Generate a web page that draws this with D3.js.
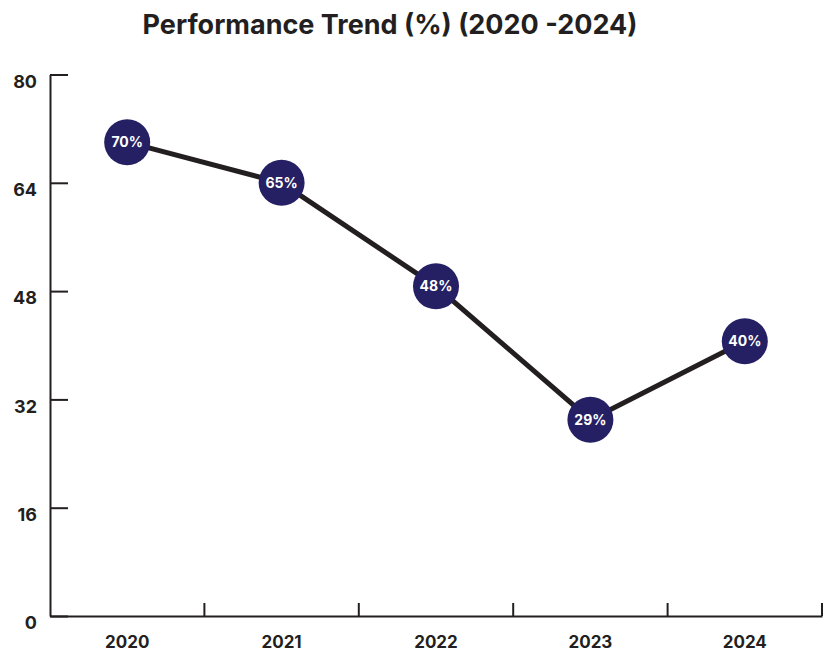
<!DOCTYPE html>
<html>
<head>
<meta charset="utf-8">
<script src="https://cdn.jsdelivr.net/npm/d3@7"></script>
<style>
  body { margin: 0; background: #ffffff; }
  text { font-family: Inter, "Noto Sans", sans-serif; font-weight: 700; fill: #231f20; }
</style>
</head>
<body>
<svg id="chart" width="832" height="657"></svg>
<script>
// data
var years = ["2020", "2021", "2022", "2023", "2024"];
var values = [70, 64, 48.7, 29, 40.6];       // where the dots sit
var labels = ["70%", "65%", "48%", "29%", "40%"]; // text printed in the dots
var yTicks = [0, 16, 32, 48, 64, 80];

var svg = d3.select("#chart");
var mLeft = 50, mRight = 822, mTop = 74.5, mBottom = 616;

var x = d3.scaleBand().domain(years).range([mLeft, mRight]).padding(0);
var y = d3.scaleLinear().domain([0, 80]).range([mBottom, mTop]);

// title
svg.append("text")
  .attr("x", 390)
  .attr("y", 34)
  .attr("text-anchor", "middle")
  .attr("font-size", 27)
  .text("Performance Trend (%) (2020 -2024)");

// y axis, ticks point inward
var yAxis = svg.append("g")
  .attr("transform", "translate(" + mLeft + ",0)")
  .call(d3.axisLeft(y).tickValues(yTicks).tickSize(-18).tickSizeOuter(0).tickPadding(13));
yAxis.selectAll("text")
  .attr("font-size", 18)
  .attr("transform", "translate(0,7)");

// x axis labels only
var xAxis = svg.append("g")
  .attr("transform", "translate(0," + mBottom + ")")
  .call(d3.axisBottom(x).tickSize(0).tickPadding(20));
xAxis.selectAll("text").attr("font-size", 17);

// tick marks at band edges, pointing up
var edges = years.map(function(d){ return x(d) + x.bandwidth(); });
svg.selectAll(".xedge")
  .data(edges)
  .enter().append("line")
  .attr("x1", function(d){ return d; })
  .attr("x2", function(d){ return d; })
  .attr("y1", mBottom)
  .attr("y2", mBottom - 13)
  .attr("stroke", "#231f20")
  .attr("stroke-width", 2);

svg.selectAll(".domain, .tick line")
  .attr("stroke", "#231f20")
  .attr("stroke-width", 2);
svg.selectAll(".tick text").attr("fill", "#231f20");

// line
var pts = years.map(function(d, i){ return [x(d) + x.bandwidth() / 2, y(values[i])]; });
svg.append("path")
  .attr("d", d3.line()(pts))
  .attr("fill", "none")
  .attr("stroke", "#231f20")
  .attr("stroke-width", 5);

// dots
var dots = svg.selectAll(".dot")
  .data(pts)
  .enter().append("g")
  .attr("transform", function(d){ return "translate(" + d[0] + "," + d[1] + ")"; });
dots.append("circle")
  .attr("r", 23)
  .attr("fill", "#251f63");
dots.append("text")
  .attr("text-anchor", "middle")
  .attr("dy", "0.36em")
  .attr("font-size", 14)
  .style("fill", "#ffffff")
  .text(function(d, i){ return labels[i]; });
</script>
</body>
</html>
